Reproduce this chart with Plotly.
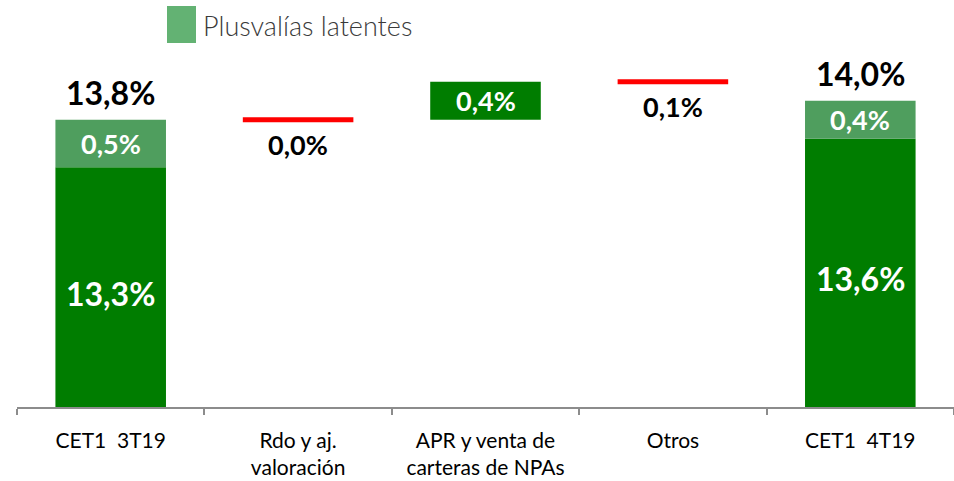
import plotly.graph_objects as go

# ---- data -------------------------------------------------------------
categories = [
    "CET1\u00a0 3T19",
    "Rdo y aj.<br>valoración",
    "APR y venta de<br>carteras de NPAs",
    "Otros",
    "CET1\u00a0 4T19",
]
cet1_base = [13.3, None, None, None, 13.6]       # CET1 sin plusvalías
latent_gains = [0.5, None, None, None, 0.4]      # Plusvalías latentes
cet1_total = [13.8, None, None, None, 14.0]
step_values = [None, 0.0, 0.4, 0.1, None]        # movimientos intermedios
step_kind = [None, "line", "bar", "line", None]
legend_label = "Plusvalías latentes"

# ---- styling ----------------------------------------------------------
DARK = "#007D00"
LIGHT = "#4F9E5E"
SWATCH = "#63B273"
RED = "#FF0000"
FONT = "Lato"
BAR_W = 0.59

Y0, Y1 = 10.78, 15.06
PLOT_L, PLOT_W, PLOT_H = 17, 937, 407


def pct(v):
    return f"{v:.1f}".replace(".", ",") + "%"


fig = go.Figure()

# running level for the intermediate steps
levels = []
level = cet1_total[0]
for v, k in zip(step_values, step_kind):
    if k is None:
        levels.append(None)
        continue
    levels.append(level)
    level += v

# CET1 core bars
fig.add_trace(go.Bar(x=categories, y=cet1_base, width=BAR_W,
                     marker=dict(color=DARK, line=dict(width=0)),
                     hoverinfo="skip"))
# latent gains stacked on top
fig.add_trace(go.Bar(x=categories, y=latent_gains, base=cet1_base, width=BAR_W,
                     marker=dict(color=LIGHT, line=dict(width=0)),
                     hoverinfo="skip"))
# floating bars for positive steps
bar_x = [c for c, k in zip(categories, step_kind) if k == "bar"]
bar_y = [v for v, k in zip(step_values, step_kind) if k == "bar"]
bar_b = [l for l, k in zip(levels, step_kind) if k == "bar"]
fig.add_trace(go.Bar(x=bar_x, y=bar_y, base=bar_b, width=BAR_W,
                     marker=dict(color=DARK, line=dict(width=0)),
                     hoverinfo="skip"))
# red level markers for the remaining steps
for i, (lv, k) in enumerate(zip(levels, step_kind)):
    if k == "line":
        fig.add_trace(go.Scatter(x=[i - BAR_W / 2, i + BAR_W / 2], y=[lv, lv],
                                 xaxis="x2", mode="lines",
                                 line=dict(color=RED, width=5),
                                 hoverinfo="skip"))

ann = []
BIG, SMALL = 32, 27
for c, b, g, t in zip(categories, cet1_base, latent_gains, cet1_total):
    if t is None:
        continue
    ann.append(dict(x=c, y=t, text=pct(t), showarrow=False, yanchor="bottom",
                    yshift=6, font=dict(family=FONT, size=BIG, color="black",
                                        weight="bold")))
    ann.append(dict(x=c, y=b + g / 2, text=pct(g), showarrow=False,
                    font=dict(family=FONT, size=SMALL, color="white", weight="bold")))
    ann.append(dict(x=c, y=(Y0 + b) / 2, text=pct(b), showarrow=False, yshift=-6,
                    font=dict(family=FONT, size=BIG, color="white", weight="bold")))
for c, v, lv, k in zip(categories, step_values, levels, step_kind):
    if k == "bar":
        ann.append(dict(x=c, y=lv + v / 2, text=pct(v), showarrow=False,
                        font=dict(family=FONT, size=SMALL, color="white",
                                  weight="bold")))
    elif k == "line":
        ann.append(dict(x=c, y=lv, text=pct(v), showarrow=False, yanchor="top",
                        yshift=-6, font=dict(family=FONT, size=SMALL, color="black",
                                             weight="bold")))

# legend entry
sx0, sx1, sy0, sy1 = 167, 196, 6, 43
fig.add_shape(type="rect", xref="paper", yref="paper",
              x0=(sx0 - PLOT_L) / PLOT_W, x1=(sx1 - PLOT_L) / PLOT_W,
              y0=1 - sy1 / PLOT_H, y1=1 - sy0 / PLOT_H,
              fillcolor=SWATCH, line=dict(width=0))
ann.append(dict(xref="paper", yref="paper", x=(201 - PLOT_L) / PLOT_W,
                y=1 - 25 / PLOT_H, xanchor="left", yanchor="middle",
                text=legend_label, showarrow=False,
                font=dict(family=FONT, size=27, color="#3a3a3a", weight=300)))

fig.update_layout(
    width=954, height=481,
    margin=dict(l=PLOT_L, r=0, t=0, b=74),
    plot_bgcolor="white", paper_bgcolor="white",
    barmode="overlay", showlegend=False,
    annotations=ann,
    xaxis=dict(type="category", range=[-0.5, 4.5], tickson="boundaries",
               ticks="outside", ticklen=6, tickwidth=1.5, tickcolor="#8c8c8c",
               showline=True, linecolor="#8c8c8c", linewidth=1.5,
               showgrid=False, zeroline=False, ticklabelstandoff=14,
               tickfont=dict(family=FONT, size=21, color="black")),
    xaxis2=dict(overlaying="x", range=[-0.5, 4.5], visible=False),
    yaxis=dict(range=[Y0, Y1], visible=False),
)

fig.write_html("out.html")
